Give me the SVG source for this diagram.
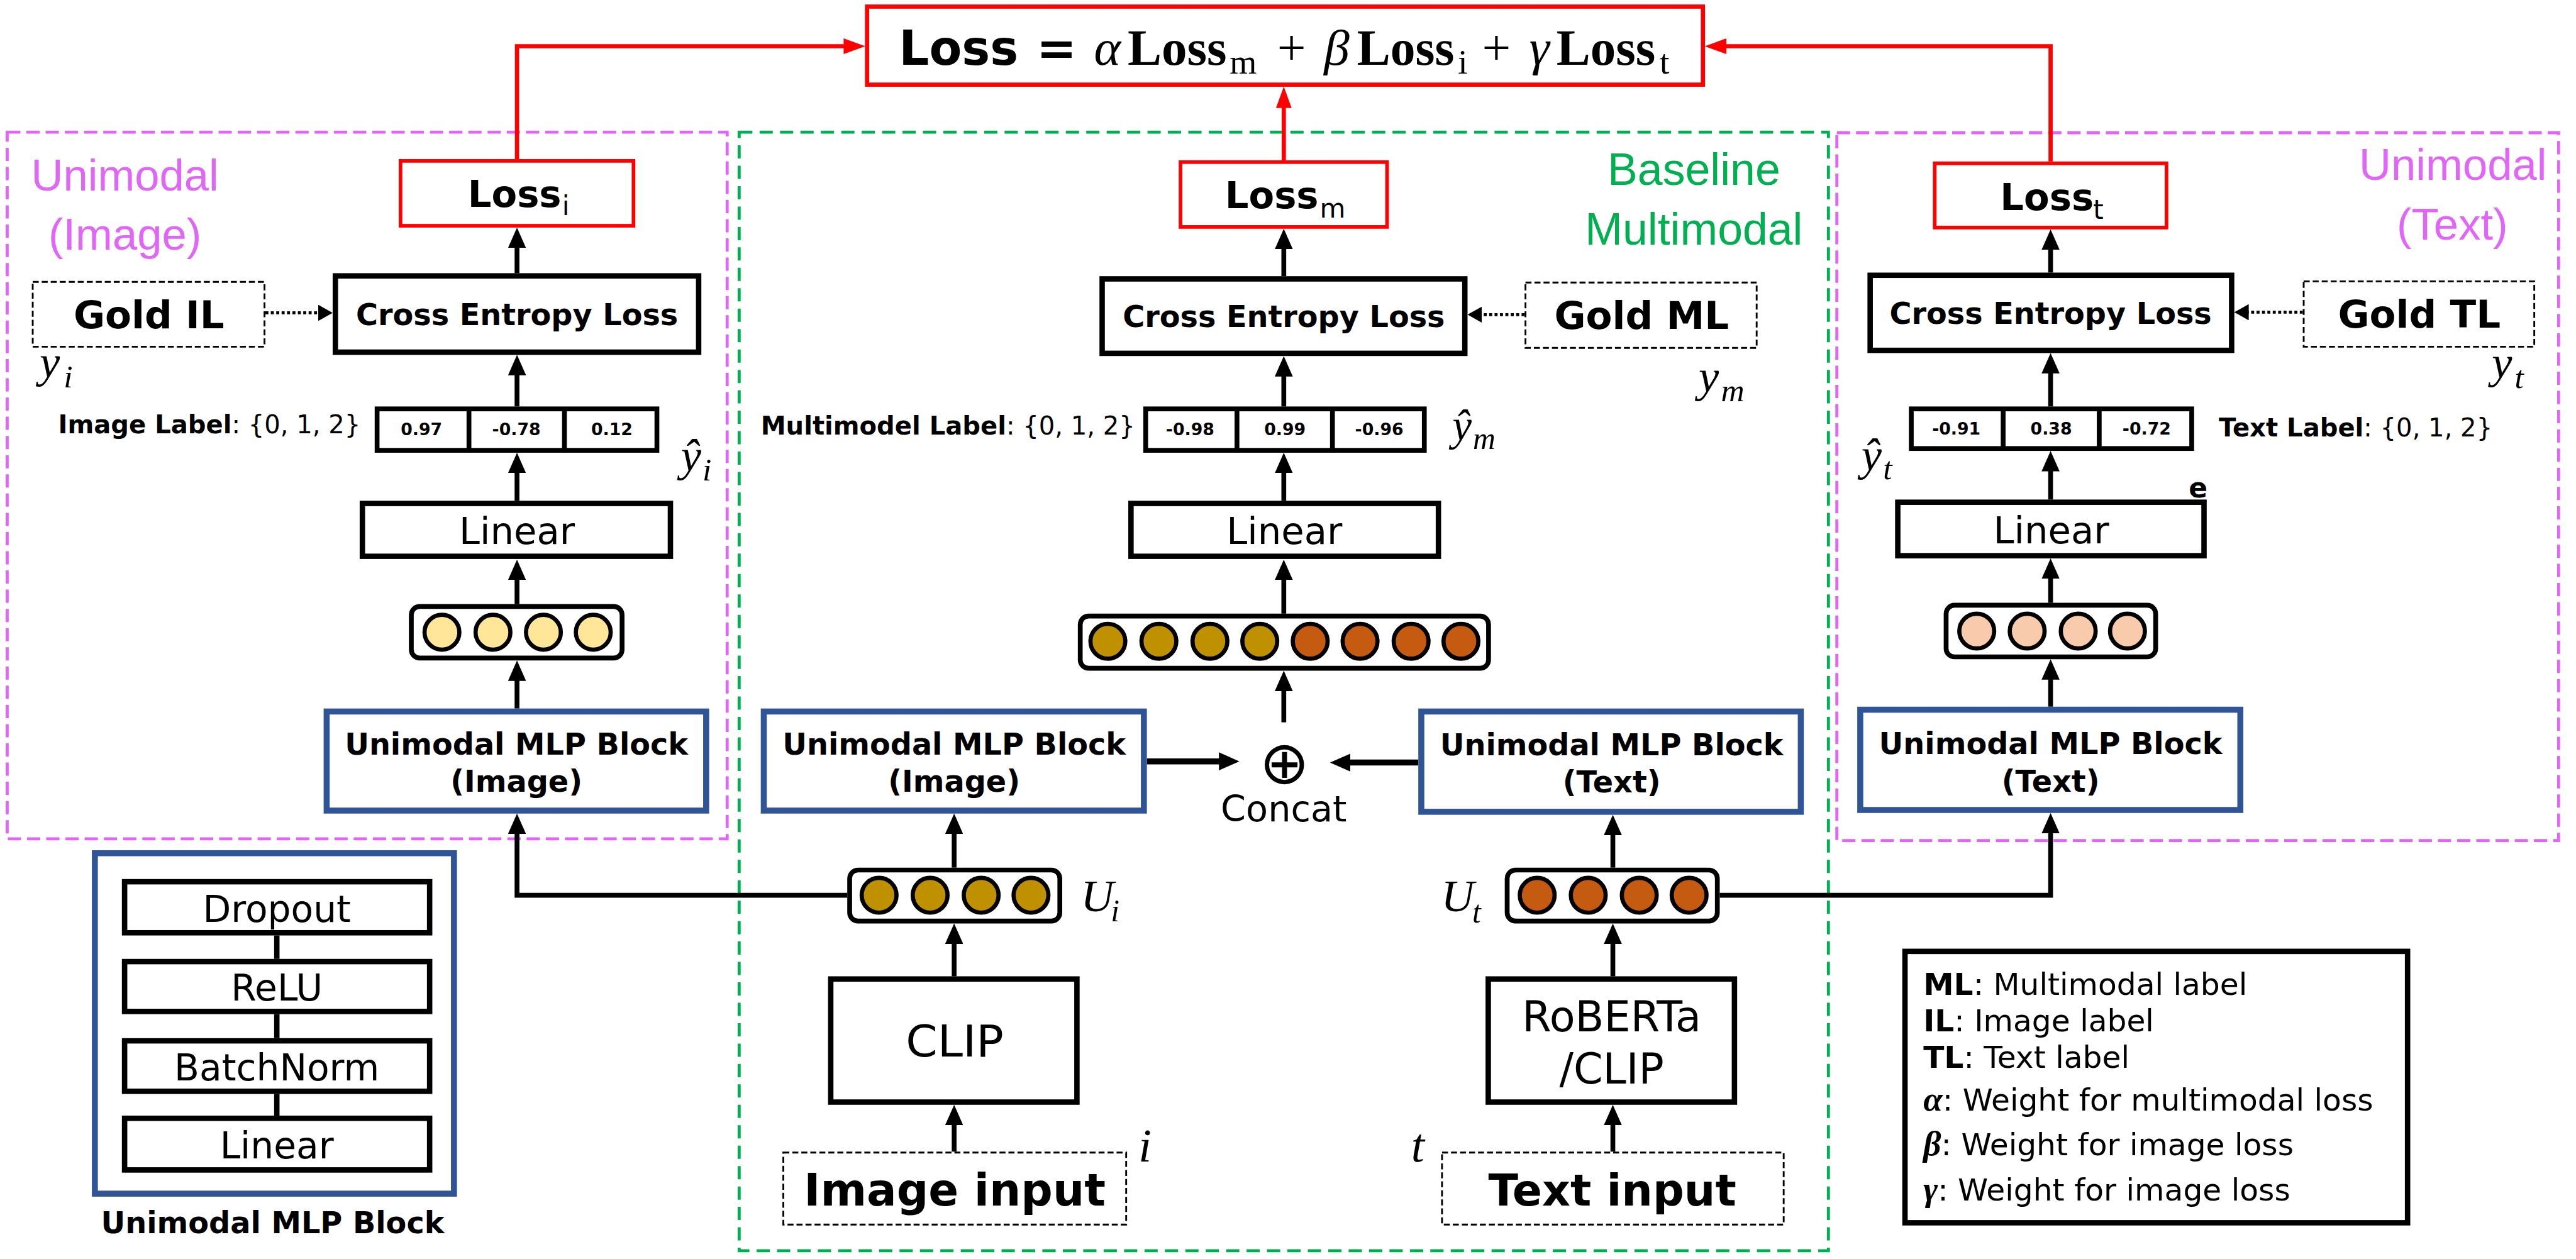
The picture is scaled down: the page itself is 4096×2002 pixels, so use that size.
<svg xmlns="http://www.w3.org/2000/svg" width="4096" height="2002" viewBox="0 0 4096 2002">
<style>
.bx{fill:#fff;stroke:#000;stroke-width:9}
.ob{fill:#fff;stroke:#000;stroke-width:8}
.lb{fill:#fff;stroke:#000;stroke-width:9}
.rd{fill:#fff;stroke:#f00;stroke-width:6}
.bl{fill:#fff;stroke:#2F5597;stroke-width:10}
.ds{fill:#fff;stroke:#000;stroke-width:3;stroke-dasharray:10 5}
.vec{fill:#fff;stroke:#000;stroke-width:8}
.dv{stroke:#000;stroke-width:8}
.c1{fill:#FFE699;stroke:#000;stroke-width:7}
.c2{fill:#BF9000;stroke:#000;stroke-width:7}
.c3{fill:#C55A11;stroke:#000;stroke-width:7}
.c4{fill:#F8CBAD;stroke:#000;stroke-width:7}
.ar{fill:none;stroke:#000;stroke-width:8;marker-end:url(#ah)}
.ar2{fill:none;stroke:#000;stroke-width:10;marker-end:url(#ah)}
.rar{fill:none;stroke:#f00;stroke-width:7;marker-end:url(#rh)}
.dot{fill:none;stroke:#000;stroke-width:5;stroke-dasharray:5 4;marker-end:url(#dh)}
.ln{stroke:#000;stroke-width:9}
.rg{fill:none;stroke-width:5}
.b{font-family:"DejaVu Sans",sans-serif;font-weight:bold}
.r{font-family:"DejaVu Sans",sans-serif}
.a{font-family:"Liberation Sans",Arial,sans-serif}
.m{font-family:"Liberation Serif",serif}
.mi{font-family:"Liberation Serif",serif;font-style:italic}
.c{text-anchor:middle}
</style>
<defs>
<marker id="ah" markerUnits="userSpaceOnUse" viewBox="0 0 34 30" markerWidth="34" markerHeight="30" refX="3" refY="15" orient="auto"><path d="M0,0 L34,15 L0,30 Z" fill="#000"/></marker>
<marker id="rh" markerUnits="userSpaceOnUse" viewBox="0 0 36 26" markerWidth="36" markerHeight="26" refX="3" refY="13" orient="auto"><path d="M0,0 L36,13 L0,26 Z" fill="#f00"/></marker>
<marker id="dh" markerUnits="userSpaceOnUse" viewBox="0 0 24 27" markerWidth="24" markerHeight="27" refX="2" refY="13.5" orient="auto"><path d="M0,0 L24,13.5 L0,27 Z" fill="#000"/></marker>
</defs>
<rect width="4096" height="2002" fill="#fff"/>
<g transform="scale(0.95478)">

<g id="regions">
<rect class="rg" x="12" y="220" width="1199" height="1177" stroke="#E066F5" stroke-dasharray="22 10"/>
<rect class="rg" x="1231" y="220" width="1814" height="1863" stroke="#00B050" stroke-dasharray="22 12"/>
<rect class="rg" x="3059" y="221" width="1202" height="1179" stroke="#E066F5" stroke-dasharray="22 10"/>
<text class="a c" x="208" y="317" font-size="74" fill="#E066F5">Unimodal</text>
<text class="a c" x="208" y="416" font-size="74" fill="#E066F5">(Image)</text>
<text class="a c" x="4085" y="300" font-size="74" fill="#E066F5">Unimodal</text>
<text class="a c" x="4084" y="399" font-size="74" fill="#E066F5">(Text)</text>
<text class="a c" x="2821" y="308" font-size="75" fill="#00B050">Baseline</text>
<text class="a c" x="2821" y="407" font-size="75" fill="#00B050">Multimodal</text>
</g>

<g id="connectors">
<path class="rar" d="M861,265 V77 H1408"/>
<path class="rar" d="M3415,269 V77 H2872"/>
<path class="rar" d="M2138,267 V177"/>
<path class="ar" d="M861,455 V410"/>
<path class="ar" d="M861,677 V622"/>
<path class="ar" d="M861,834 V785"/>
<path class="ar" d="M861,1006 V963"/>
<path class="ar" d="M861,1180 V1131"/>
<path class="ar" d="M1411,1491 H861 V1386"/>
<path class="dot" d="M442,521 H532"/>
<path class="ar" d="M2138,460 V412"/>
<path class="ar" d="M2138,677 V624"/>
<path class="ar" d="M2138,834 V785"/>
<path class="ar" d="M2138,1022 V963"/>
<path class="ar" d="M2138,1203 V1148"/>
<path class="ar2" d="M1910,1268 H2033"/>
<path class="ar2" d="M2362,1270 H2246"/>
<path class="ar" d="M1589,1445 V1386"/>
<path class="ar" d="M1589,1626 V1569"/>
<path class="ar" d="M1589,1918 V1871"/>
<path class="ar" d="M2686,1445 V1388"/>
<path class="ar" d="M2686,1626 V1569"/>
<path class="ar" d="M2686,1918 V1871"/>
<path class="dot" d="M2539,524 H2466"/>
<path class="ar" d="M3415,454 V413"/>
<path class="ar" d="M3415,677 V619"/>
<path class="ar" d="M3415,832 V782"/>
<path class="ar" d="M3415,1004 V961"/>
<path class="ar" d="M3415,1177 V1129"/>
<path class="ar" d="M2864,1491 H3415 V1385"/>
<path class="dot" d="M3835,520 H3743"/>
</g>

<g id="loss-total">
<rect x="1444" y="11" width="1392" height="130" fill="#fff" stroke="#f00" stroke-width="7"/>
<text class="b" x="1497" y="108" font-size="80" textLength="199" lengthAdjust="spacingAndGlyphs">Loss</text>
<text class="b" x="1726" y="108" font-size="80">=</text>
<text class="mi" x="1822" y="108" font-size="85">α</text>
<text class="m" x="1878" y="108" font-size="85" font-weight="bold" textLength="165" lengthAdjust="spacingAndGlyphs">Loss</text>
<text class="m" x="2048" y="123" font-size="58">m</text>
<text class="m" x="2127" y="108" font-size="85">+</text>
<text class="mi" x="2205" y="108" font-size="85">β</text>
<text class="m" x="2260" y="108" font-size="85" font-weight="bold" textLength="162" lengthAdjust="spacingAndGlyphs">Loss</text>
<text class="m" x="2428" y="123" font-size="58">i</text>
<text class="m" x="2468" y="108" font-size="85">+</text>
<text class="mi" x="2547" y="108" font-size="85">γ</text>
<text class="m" x="2592" y="108" font-size="85" font-weight="bold" textLength="165" lengthAdjust="spacingAndGlyphs">Loss</text>
<text class="m" x="2764" y="123" font-size="58">t</text>
</g>

<g id="img-loss">
<rect class="rd" x="667" y="268" width="388" height="108"/>
<text class="b" x="779" y="345" font-size="62">Loss</text>
<text class="r" x="936" y="358" font-size="44">i</text>
</g>
<g id="img-ce">
<rect class="bx" x="558.5" y="459.5" width="605" height="127"/>
<text class="b c" x="861" y="541" font-size="50">Cross Entropy Loss</text>
</g>
<g id="gold-il">
<rect class="ds" x="54.5" y="469.5" width="386" height="108"/>
<text class="b c" x="248" y="547" font-size="64">Gold IL</text>
<text class="mi" x="66" y="628" font-size="76">y</text>
<text class="mi" x="106" y="645" font-size="54">i</text>
</g>
<g id="img-out">
<rect class="ob" x="628" y="681" width="466" height="69"/>
<path class="dv" d="M781,681 V750 M940,681 V750"/>
<text class="b c" x="702" y="725" font-size="28">0.97</text>
<text class="b c" x="860" y="725" font-size="28">-0.78</text>
<text class="b c" x="1019" y="725" font-size="28">0.12</text>
<text class="b" x="97" y="722" font-size="42">Image Label<tspan class="r" font-weight="normal">: {0, 1, 2}</tspan></text>
<text class="mi" x="1134" y="785" font-size="76">ŷ</text>
<text class="mi" x="1170" y="800" font-size="54">i</text>
</g>
<g id="img-linear">
<rect class="bx" x="603.5" y="838.5" width="513" height="88"/>
<text class="r c" x="861" y="906" font-size="62">Linear</text>
</g>
<g id="img-vec">
<rect class="vec" x="685" y="1010" width="351" height="86" rx="14"/>
<circle class="c1" cx="736" cy="1053" r="29"/>
<circle class="c1" cx="821" cy="1053" r="29"/>
<circle class="c1" cx="905" cy="1053" r="29"/>
<circle class="c1" cx="988" cy="1053" r="29"/>
</g>
<g id="img-mlp">
<rect class="bl" x="544" y="1185" width="632" height="165"/>
<text class="b c" x="860" y="1257" font-size="50">Unimodal MLP Block</text>
<text class="b c" x="860" y="1319" font-size="50">(Image)</text>
</g>

<g id="mlp-legend">
<rect class="bl" x="158" y="1421" width="598" height="567"/>
<path class="ln" d="M461,1558 V1597 M461,1689 V1729 M461,1822 V1858"/>
<rect class="lb" x="207.5" y="1468.5" width="508" height="85"/>
<text class="r c" x="461" y="1535" font-size="61">Dropout</text>
<rect class="lb" x="207.5" y="1601.5" width="508" height="83"/>
<text class="r c" x="461" y="1666" font-size="61">ReLU</text>
<rect class="lb" x="207.5" y="1733.5" width="508" height="84"/>
<text class="r c" x="461" y="1799" font-size="61">BatchNorm</text>
<rect class="lb" x="207.5" y="1862.5" width="508" height="86"/>
<text class="r c" x="461" y="1929" font-size="61">Linear</text>
<text class="b c" x="454" y="2054" font-size="50">Unimodal MLP Block</text>
</g>

<g id="mm-loss">
<rect class="rd" x="1966" y="270" width="344" height="108"/>
<text class="b" x="2040" y="347" font-size="62">Loss</text>
<text class="r" x="2198" y="362" font-size="44">m</text>
</g>
<g id="mm-ce">
<rect class="bx" x="1835.5" y="464.5" width="604" height="124"/>
<text class="b c" x="2138" y="545" font-size="50">Cross Entropy Loss</text>
</g>
<g id="gold-ml">
<rect class="ds" x="2540.5" y="470.5" width="385" height="109"/>
<text class="b c" x="2734" y="548" font-size="64">Gold ML</text>
<text class="mi" x="2829" y="652" font-size="76">y</text>
<text class="mi" x="2866" y="668" font-size="54">m</text>
</g>
<g id="mm-out">
<rect class="ob" x="1908" y="681" width="464" height="69"/>
<path class="dv" d="M2060,681 V750 M2219,681 V750"/>
<text class="b c" x="1982" y="725" font-size="28">-0.98</text>
<text class="b c" x="2140" y="725" font-size="28">0.99</text>
<text class="b c" x="2297" y="725" font-size="28">-0.96</text>
<text class="b" x="1267" y="724" font-size="42">Multimodel Label<tspan class="r" font-weight="normal">: {0, 1, 2}</tspan></text>
<text class="mi" x="2419" y="733" font-size="72">ŷ</text>
<text class="mi" x="2453" y="748" font-size="52">m</text>
</g>
<g id="mm-linear">
<rect class="bx" x="1883.5" y="838.5" width="512" height="88"/>
<text class="r c" x="2139" y="906" font-size="62">Linear</text>
</g>
<g id="mm-vec">
<rect class="vec" x="1799" y="1026" width="680" height="87" rx="14"/>
<circle class="c2" cx="1845" cy="1068" r="29"/>
<circle class="c2" cx="1930" cy="1068" r="29"/>
<circle class="c2" cx="2015" cy="1068" r="29"/>
<circle class="c2" cx="2098" cy="1068" r="29"/>
<circle class="c3" cx="2182" cy="1068" r="29"/>
<circle class="c3" cx="2265" cy="1068" r="29"/>
<circle class="c3" cx="2350" cy="1068" r="29"/>
<circle class="c3" cx="2433" cy="1068" r="29"/>
</g>
<g id="concat">
<text class="r c" x="2139" y="1305" font-size="100">⊕</text>
<text class="r c" x="2138" y="1368" font-size="60">Concat</text>
</g>
<g id="mm-mlp-image">
<rect class="bl" x="1272" y="1185" width="633" height="165"/>
<text class="b c" x="1589" y="1257" font-size="50">Unimodal MLP Block</text>
<text class="b c" x="1589" y="1319" font-size="50">(Image)</text>
</g>
<g id="mm-mlp-text">
<rect class="bl" x="2367" y="1185" width="632" height="167"/>
<text class="b c" x="2684" y="1258" font-size="50">Unimodal MLP Block</text>
<text class="b c" x="2684" y="1320" font-size="50">(Text)</text>
</g>
<g id="ui-vec">
<rect class="vec" x="1415" y="1449" width="350" height="85" rx="14"/>
<circle class="c2" cx="1464" cy="1491" r="29"/>
<circle class="c2" cx="1549" cy="1491" r="29"/>
<circle class="c2" cx="1634" cy="1491" r="29"/>
<circle class="c2" cx="1717" cy="1491" r="29"/>
<text class="mi" x="1800" y="1518" font-size="76">U</text>
<text class="mi" x="1850" y="1534" font-size="52">i</text>
</g>
<g id="ut-vec">
<rect class="vec" x="2510" y="1449" width="350" height="85" rx="14"/>
<circle class="c3" cx="2560" cy="1491" r="29"/>
<circle class="c3" cx="2645" cy="1491" r="29"/>
<circle class="c3" cx="2730" cy="1491" r="29"/>
<circle class="c3" cx="2813" cy="1491" r="29"/>
<text class="mi" x="2400" y="1518" font-size="76">U</text>
<text class="mi" x="2452" y="1536" font-size="52">t</text>
</g>
<g id="clip">
<rect class="bx" x="1383.5" y="1630.5" width="410" height="205"/>
<text class="r c" x="1590" y="1760" font-size="72" textLength="163" lengthAdjust="spacingAndGlyphs">CLIP</text>
</g>
<g id="roberta">
<rect class="bx" x="2478.5" y="1630.5" width="410" height="205"/>
<text class="r c" x="2684" y="1718" font-size="70">RoBERTa</text>
<text class="r c" x="2684" y="1805" font-size="70">/CLIP</text>
</g>
<g id="image-input">
<rect class="ds" x="1304.5" y="1919.5" width="571" height="120"/>
<text class="b c" x="1590" y="2008" font-size="74">Image input</text>
<text class="mi" x="1896" y="1935" font-size="78">i</text>
</g>
<g id="text-input">
<rect class="ds" x="2401.5" y="1919.5" width="569" height="120"/>
<text class="b c" x="2685" y="2008" font-size="73">Text input</text>
<text class="mi" x="2350" y="1935" font-size="80">t</text>
</g>

<g id="txt-loss">
<rect class="rd" x="3222" y="272" width="386" height="107"/>
<text class="b" x="3331" y="350" font-size="62">Loss</text>
<text class="r" x="3486" y="365" font-size="44">t</text>
</g>
<g id="txt-ce">
<rect class="bx" x="3114.5" y="458.5" width="602" height="125"/>
<text class="b c" x="3415" y="539" font-size="50">Cross Entropy Loss</text>
</g>
<g id="gold-tl">
<rect class="ds" x="3836.5" y="468.5" width="384" height="109"/>
<text class="b c" x="4029" y="546" font-size="64">Gold TL</text>
<text class="mi" x="4150" y="630" font-size="76">y</text>
<text class="mi" x="4188" y="646" font-size="54">t</text>
</g>
<g id="txt-out">
<rect class="ob" x="3183" y="681" width="467" height="66"/>
<path class="dv" d="M3336,681 V747 M3496,681 V747"/>
<text class="b c" x="3258" y="724" font-size="28">-0.91</text>
<text class="b c" x="3416" y="724" font-size="28">0.38</text>
<text class="b c" x="3575" y="724" font-size="28">-0.72</text>
<text class="b" x="3695" y="727" font-size="42">Text Label<tspan class="r" font-weight="normal">: {0, 1, 2}</tspan></text>
<text class="mi" x="3100" y="783" font-size="76">ŷ</text>
<text class="mi" x="3136" y="798" font-size="54">t</text>
<text class="b" x="3645" y="829" font-size="46">e</text>
</g>
<g id="txt-linear">
<rect class="bx" x="3160.5" y="836.5" width="510" height="89"/>
<text class="r c" x="3416" y="905" font-size="62">Linear</text>
</g>
<g id="txt-vec">
<rect class="vec" x="3241" y="1008" width="349" height="86" rx="14"/>
<circle class="c4" cx="3292" cy="1051" r="29"/>
<circle class="c4" cx="3376" cy="1051" r="29"/>
<circle class="c4" cx="3461" cy="1051" r="29"/>
<circle class="c4" cx="3543" cy="1051" r="29"/>
</g>
<g id="txt-mlp">
<rect class="bl" x="3098" y="1182" width="633" height="167"/>
<text class="b c" x="3415" y="1256" font-size="50">Unimodal MLP Block</text>
<text class="b c" x="3415" y="1319" font-size="50">(Text)</text>
</g>

<g id="legend">
<rect class="bx" x="3172.5" y="1584.5" width="837" height="452"/>
<text class="r" x="3203" y="1657" font-size="51"><tspan font-weight="bold">ML</tspan>: Multimodal label</text>
<text class="r" x="3203" y="1718" font-size="51"><tspan font-weight="bold">IL</tspan>: Image label</text>
<text class="r" x="3203" y="1778" font-size="51"><tspan font-weight="bold">TL</tspan>: Text label</text>
<text class="r" x="3203" y="1850" font-size="51"><tspan class="mi" font-weight="bold" font-size="58">α</tspan>: Weight for multimodal loss</text>
<text class="r" x="3203" y="1924" font-size="51"><tspan class="mi" font-weight="bold" font-size="58">β</tspan>: Weight for image loss</text>
<text class="r" x="3203" y="1999" font-size="51"><tspan class="mi" font-weight="bold" font-size="58">γ</tspan>: Weight for image loss</text>
</g>

</g>
</svg>
